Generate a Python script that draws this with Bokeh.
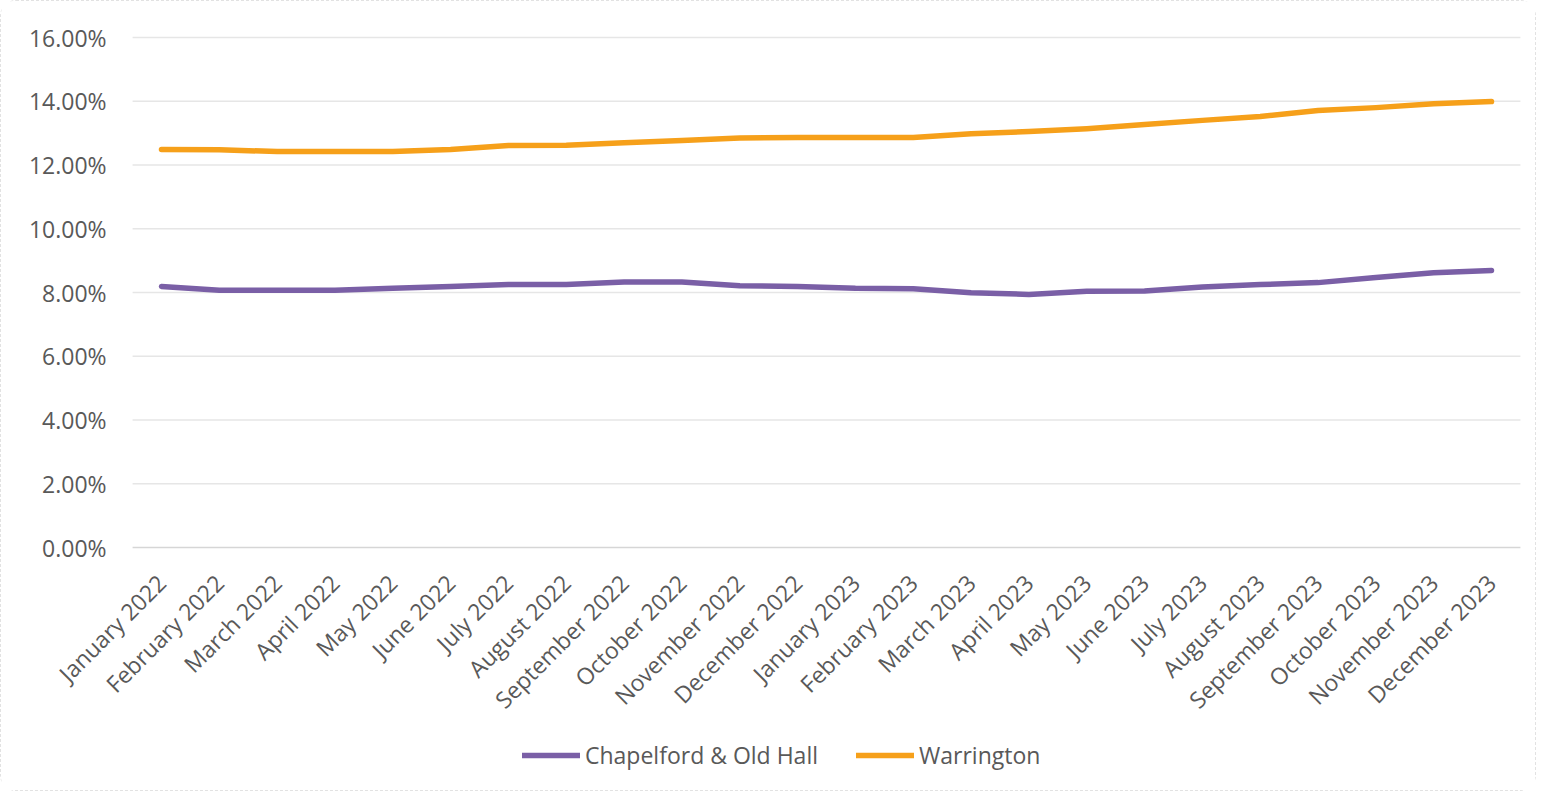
import math
from bokeh.plotting import figure
from bokeh.models import Range1d, Legend, LegendItem, ColumnDataSource
from bokeh.core.properties import value
from bokeh.embed import file_html
from bokeh.resources import INLINE

months = ["January 2022", "February 2022", "March 2022", "April 2022", "May 2022", "June 2022",
          "July 2022", "August 2022", "September 2022", "October 2022", "November 2022",
          "December 2022", "January 2023", "February 2023", "March 2023", "April 2023",
          "May 2023", "June 2023", "July 2023", "August 2023", "September 2023",
          "October 2023", "November 2023", "December 2023"]

chapelford = [8.19, 8.07, 8.07, 8.07, 8.13, 8.19, 8.25, 8.25, 8.33, 8.33, 8.21, 8.19,
              8.13, 8.12, 7.99, 7.94, 8.04, 8.05, 8.17, 8.25, 8.31, 8.47, 8.62, 8.69]
warrington = [12.49, 12.48, 12.42, 12.42, 12.42, 12.49, 12.61, 12.62, 12.70, 12.77, 12.85, 12.86,
              12.86, 12.86, 12.98, 13.05, 13.14, 13.27, 13.40, 13.52, 13.71, 13.80, 13.92, 13.99]

y_ticks = [0, 2, 4, 6, 8, 10, 12, 14, 16]
y_tick_labels = [f"{t:.2f}%" for t in y_ticks]

series_names = ["Chapelford & Old Hall", "Warrington"]
colors = ["#7a5fa6", "#f6a01a"]

FONT = "Open Sans"
TXT = "#595959"

# ---- layout (pixels) ----
W, H = 1536, 791
FIRST_X, LAST_X = 160, 1490        # screen columns of first / last month
TOP_Y, ZERO_Y = 36, 546            # screen rows of the 16 % and 0 % lines
step = (LAST_X - FIRST_X) / (len(months) - 1)
px_per_unit = (ZERO_Y - TOP_Y) / (max(y_ticks) / 100)

x_lo = -FIRST_X / step
x_hi = (W - FIRST_X) / step
y_hi = max(y_ticks) / 100 + TOP_Y / px_per_unit
y_lo = -(H - ZERO_Y) / px_per_unit

p = figure(width=W, height=H, output_backend="svg", toolbar_location=None,
           x_range=Range1d(x_lo, x_hi), y_range=Range1d(y_lo, y_hi),
           x_axis_location=None, y_axis_location=None, min_border=0)
p.outline_line_color = None
p.background_fill_color = "white"
p.border_fill_color = "white"
p.grid.visible = False

idx = list(range(len(months)))
x_left, x_right = idx[0] - 0.5, idx[-1] + 0.5

# horizontal gridlines and value labels
grid = ColumnDataSource(dict(y=[t / 100 for t in y_ticks], lab=y_tick_labels,
                             x0=[x_left] * len(y_ticks), x1=[x_right] * len(y_ticks),
                             col=["#d6d6d6" if t == 0 else "#e6e6e6" for t in y_ticks]))
p.segment(x0="x0", y0="y", x1="x1", y1="y", source=grid, line_color="col", line_width=1.5)
p.text(x="x0", y="y", text="lab", source=grid, text_align="right", text_baseline="middle",
       x_offset=-26, text_font=value(FONT), text_font_size="23px", text_color=TXT)

# series
src = ColumnDataSource(dict(i=idx, m=months,
                            a=[v / 100 for v in chapelford],
                            b=[v / 100 for v in warrington],
                            z=[0.0] * len(months)))
r1 = p.line("i", "a", source=src, line_color=colors[0], line_width=5.5, line_cap="round", line_join="round")
r2 = p.line("i", "b", source=src, line_color=colors[1], line_width=5.5, line_cap="round", line_join="round")

# month labels, rotated 45 degrees under the 0 % line
p.text(x="i", y="z", text="m", source=src, angle=math.pi / 4,
       text_align="right", text_baseline="middle", x_offset=0, y_offset=31,
       text_font=value(FONT), text_font_size="23px", text_color=TXT)

legend = Legend(items=[LegendItem(label=series_names[0], renderers=[r1]),
                       LegendItem(label=series_names[1], renderers=[r2])],
                orientation="horizontal", location=(521, 21),
                label_text_font=FONT, label_text_font_size="23px", label_text_color=TXT,
                glyph_width=58, glyph_height=24, label_standoff=5, spacing=38,
                border_line_color=None, background_fill_alpha=0, padding=0, margin=0)
p.add_layout(legend, "center")

p.styles = {"border": "1px dashed #e2e2e2", "border-radius": "16px"}

open("out.html", "w").write(file_html(p, INLINE))
